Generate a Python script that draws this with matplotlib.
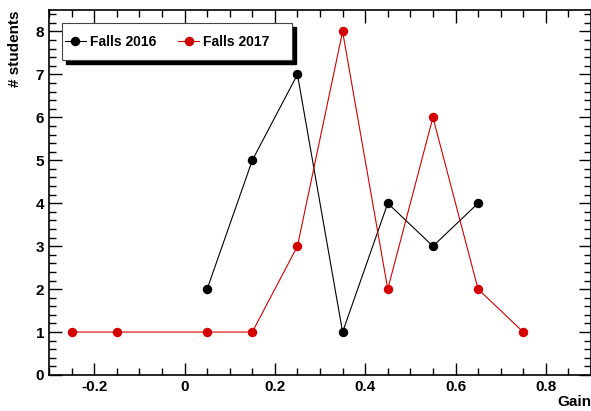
import matplotlib
matplotlib.use("Agg")
import matplotlib.pyplot as plt
from matplotlib.patches import Rectangle
from matplotlib.ticker import MultipleLocator

plt.rcParams['font.family'] = ['Liberation Sans', 'DejaVu Sans']
plt.rcParams['font.weight'] = 'bold'

# ------------------------------
# data
# ------------------------------
gain_2016 = [0.05, 0.15, 0.25, 0.35, 0.45, 0.55, 0.65]
count_2016 = [2, 5, 7, 1, 4, 3, 4]

gain_2017 = [-0.25, -0.15, 0.05, 0.15, 0.25, 0.35, 0.45, 0.55, 0.65, 0.75]
count_2017 = [1, 1, 1, 1, 3, 8, 2, 6, 2, 1]

labels = ['Falls 2016', 'Falls 2017']

# ------------------------------
# plot
# ------------------------------
fig = plt.figure(figsize=(5.91, 4.11), dpi=100)
ax = fig.add_axes([0.083, 0.0876, 0.917, 0.888])

ax.plot(gain_2016, count_2016, '-o', color='black', lw=0.8, ms=6.8, mew=0, label=labels[0])
ax.plot(gain_2017, count_2017, '-o', color='#d40000', lw=0.8, ms=6.8, mew=0, label=labels[1])

ax.set_xlim(-0.3, 0.9)
ax.set_ylim(0, 8.5)
ax.xaxis.set_major_locator(MultipleLocator(0.2))
ax.xaxis.set_minor_locator(MultipleLocator(0.05))
ax.yaxis.set_major_locator(MultipleLocator(1))
ax.yaxis.set_minor_locator(MultipleLocator(0.2))
ax.tick_params(which='both', direction='in', top=True, right=True, labelsize=11)
ax.tick_params(which='major', length=9, width=1)
ax.tick_params(which='minor', length=5, width=1)
ax.xaxis.set_major_formatter(plt.FuncFormatter(lambda v, p: '0' if abs(v) < 1e-9 else f'{v:g}'))
for s in ax.spines.values():
    s.set_linewidth(1.2)

ax.set_xlabel('Gain', loc='right', fontsize=11, fontweight='bold', labelpad=1)
ax.set_ylabel('# students', loc='top', fontsize=11, fontweight='bold', labelpad=10)

# legend box with ROOT-like shadow
box = (0.024, 0.863, 0.424, 0.101)
ax.add_patch(Rectangle((box[0] + 0.008, box[1] - 0.011), box[2], box[3],
                       transform=ax.transAxes, color='black', zorder=5))
ax.add_patch(Rectangle((box[0], box[1]), box[2], box[3], transform=ax.transAxes,
                       facecolor='white', edgecolor='#444444', lw=0.8, zorder=5.5))
leg = ax.legend(loc='center left', bbox_to_anchor=(box[0], box[1] + box[3] / 2), ncol=2,
                borderaxespad=0, borderpad=0.2, frameon=False, fontsize=10,
                handlelength=1.5, handletextpad=0.3, columnspacing=1.6)
leg.set_zorder(6)

fig.savefig('out.png', dpi=100)
